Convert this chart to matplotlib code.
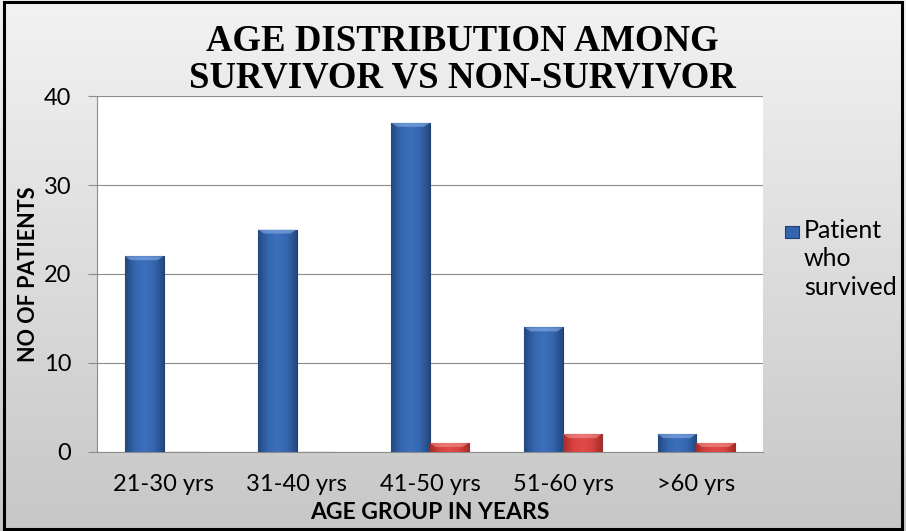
import numpy as np
import matplotlib
matplotlib.use("Agg")
import matplotlib.pyplot as plt
from matplotlib.patches import Rectangle
from matplotlib.colors import LinearSegmentedColormap

categories = ["21-30 yrs", "31-40 yrs", "41-50 yrs", "51-60 yrs", ">60 yrs"]
survived = [22, 25, 37, 14, 2]
non_survived = [0, 0, 1, 2, 1]
yticks = [0, 10, 20, 30, 40]
legend_lines = ["Patient", "who", "survived"]

FONT = "Lato"
W, H = 906, 531

fig = plt.figure(figsize=(W / 100, H / 100), dpi=100)

# grey vertical gradient behind everything
bg = fig.add_axes([0, 0, 1, 1], zorder=-10)
grad = np.linspace(0.95, 0.78, 256).reshape(-1, 1)
bg.imshow(np.dstack([grad, grad, grad]), aspect="auto", extent=[0, 1, 0, 1])
bg.set_axis_off()
fig.patches.append(Rectangle((0.004, 0.004), 0.992, 0.992, transform=fig.transFigure,
                             fill=False, edgecolor="black", linewidth=2.2))

ax = fig.add_axes([0.107, 0.149, 0.735, 0.670])
ax.set_facecolor("white")
x = np.arange(len(categories))
w = 0.29

blue_cmap = LinearSegmentedColormap.from_list(
    "bluebar", ["#24487f", "#3566b0", "#3d70bb", "#3566b0", "#24487f"])
red_cmap = LinearSegmentedColormap.from_list(
    "redbar", ["#a52d2a", "#d9423f", "#e04c48", "#d9423f", "#a52d2a"])


def shade(bars, cmap, top_color):
    # horizontal shading clipped to each bar, plus a light bevel on top
    for b in bars:
        h = b.get_height()
        if h <= 0:
            continue
        x0, wd = b.get_x(), b.get_width()
        img = ax.imshow(np.linspace(0, 1, 64).reshape(1, -1), cmap=cmap, aspect="auto",
                        extent=[x0, x0 + wd, 0, h], zorder=3.5, interpolation="bilinear")
        img.set_clip_path(b)
        bev = min(0.45, h * 0.45)
        ax.fill([x0, x0 + wd, x0 + wd * 0.85, x0 + wd * 0.15],
                [h, h, h - bev, h - bev], color=top_color, alpha=0.55,
                zorder=3.6, linewidth=0)


b1 = ax.bar(x - w / 2, survived, w, color="#3564ae", edgecolor="#1f3f73", linewidth=0.8,
            zorder=3)
b2 = ax.bar(x + w / 2, non_survived, w, color="#d94441", edgecolor="#99302c", linewidth=0.8,
            zorder=3)
shade(b1, blue_cmap, "#8fb6ec")
shade(b2, red_cmap, "#f59a96")

ax.set_xlim(-0.5, len(categories) - 0.5)
ax.set_ylim(0, 40)
ax.set_yticks(yticks)
ax.yaxis.grid(True, color="#8c8c8c", linewidth=0.8, zorder=0)
ax.set_axisbelow(True)
ax.set_xticks(x)
ax.set_xticklabels(categories, fontsize=17, fontfamily=FONT)
for lab in ax.get_yticklabels():
    lab.set_fontfamily(FONT)
    lab.set_fontsize(17)
ax.tick_params(axis="x", length=0, pad=16)
ax.tick_params(axis="y", length=6.5, color="#8c8c8c", pad=12)
for s in ["top", "right"]:
    ax.spines[s].set_visible(False)
for s in ["left", "bottom"]:
    ax.spines[s].set_color("#8c8c8c")

ax.set_xlabel("AGE GROUP IN YEARS", fontsize=16.5, fontweight="bold",
              fontfamily=FONT, labelpad=5)
ax.set_ylabel("NO OF PATIENTS", fontsize=15.5, fontweight="bold",
              fontfamily=FONT, labelpad=3)

fig.text(0.510, 0.955, "AGE DISTRIBUTION AMONG\nSURVIVOR VS NON-SURVIVOR",
         ha="center", va="top", fontsize=26.5, fontweight="bold",
         fontfamily="Liberation Serif", linespacing=1.05)

# legend: square key for the first series, label wrapped over three lines
fig.patches.append(Rectangle((785 / W, 1 - 238 / H), 14 / W, 12 / H,
                             transform=fig.transFigure, facecolor="#3564ae",
                             edgecolor="#1f3f73", linewidth=0.8))
for txt, base in zip(legend_lines, [238, 266, 295]):
    fig.text(804 / W, 1 - base / H, txt, ha="left", va="baseline",
             fontsize=18, fontfamily=FONT)

fig.savefig("out.png", dpi=100)
